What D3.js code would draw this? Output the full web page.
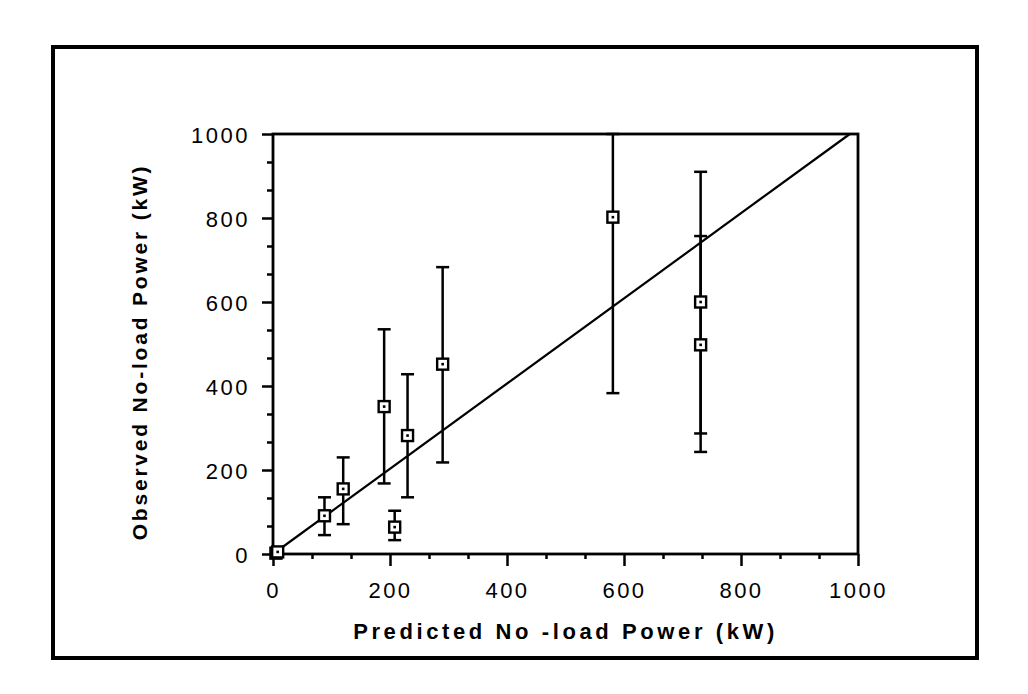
<!DOCTYPE html>
<html>
<head>
<meta charset="utf-8">
<script src="https://cdn.jsdelivr.net/npm/d3@7"></script>
<style>
  body { margin: 0; background: #fff; }
  text { font-family: "Liberation Sans", Arial, sans-serif; fill: #000; }
</style>
</head>
<body>
<div id="chart"></div>
<script>
// data
const predicted = [5, 8, 88, 120, 190, 208, 230, 290, 581, 731, 731]
const observed = [2, 5, 91, 155, 351, 64, 282, 452, 802, 600, 498]
const errLow = [null, null, 45, 71, 168, 33, 135, 218, 383, 287, 243]
const errHigh = [null, null, 135, 230, 535, 103, 428, 683, 1000, 910, 757]
const fitLine = [[0, 0], [986, 1000]]
const majorTicks = [0, 200, 400, 600, 800, 1000]
const minorTicks = d3.range(0, 1001, 200 / 3).filter((d, i) => i % 3 !== 0)

const width = 1028
const height = 694
const margin = { top: 134, right: 170, bottom: 140, left: 273 }
const boundedWidth = width - margin.left - margin.right
const boundedHeight = height - margin.top - margin.bottom

const svg = d3.select('#chart').append('svg')
  .attr('width', width)
  .attr('height', height)

// outer frame
svg.append('rect')
  .attr('x', 53).attr('y', 47)
  .attr('width', 924).attr('height', 611)
  .attr('fill', 'none')
  .attr('stroke', '#000')
  .attr('stroke-width', 4)

const plot = svg.append('g')
  .attr('transform', `translate(${margin.left}, ${margin.top})`)

const xScale = d3.scaleLinear().domain([0, 1000]).range([0, boundedWidth])
const yScale = d3.scaleLinear().domain([0, 1000]).range([boundedHeight, 0])

// x axis
const xAxis = plot.append('g')
  .attr('transform', `translate(0, ${boundedHeight})`)
xAxis.append('g')
  .call(d3.axisBottom(xScale).tickValues(minorTicks).tickSize(5).tickFormat(''))
xAxis.append('g')
  .call(d3.axisBottom(xScale).tickValues(majorTicks).tickSize(12).tickPadding(16).tickFormat(d3.format('d')))
xAxis.selectAll('text')
  .style('font-size', '22px')
  .style('letter-spacing', '2.5px')

// y axis
const yAxis = plot.append('g')
yAxis.append('g')
  .call(d3.axisLeft(yScale).tickValues(minorTicks).tickSize(6).tickFormat(''))
yAxis.append('g')
  .call(d3.axisLeft(yScale).tickValues(majorTicks).tickSize(11).tickPadding(12).tickFormat(d3.format('d')))
yAxis.selectAll('text')
  .style('font-size', '22px')
  .style('letter-spacing', '2.5px')
  .attr('dy', '0.4em')

plot.selectAll('.domain').remove()
plot.selectAll('.tick line').attr('stroke', '#000').attr('stroke-width', 2.5)

// plot box
plot.append('rect')
  .attr('width', boundedWidth)
  .attr('height', boundedHeight)
  .attr('fill', 'none')
  .attr('stroke', '#000')
  .attr('stroke-width', 2.8)

// fitted line
plot.append('path')
  .datum(fitLine)
  .attr('d', d3.line().x(d => xScale(d[0])).y(d => yScale(d[1])))
  .attr('fill', 'none')
  .attr('stroke', '#000')
  .attr('stroke-width', 2.2)

const points = predicted.map((p, i) => ({ x: p, y: observed[i], lo: errLow[i], hi: errHigh[i] }))
const capW = 13

// error bars
const bars = plot.selectAll('.errbar')
  .data(points.filter(d => d.lo !== null))
  .enter().append('g')
  .attr('class', 'errbar')
  .attr('stroke', '#000')
  .attr('stroke-width', 2.5)

bars.append('line')
  .attr('x1', d => xScale(d.x)).attr('x2', d => xScale(d.x))
  .attr('y1', d => yScale(d.lo)).attr('y2', d => yScale(d.hi))
bars.append('line')
  .attr('x1', d => xScale(d.x) - capW / 2).attr('x2', d => xScale(d.x) + capW / 2)
  .attr('y1', d => yScale(d.lo)).attr('y2', d => yScale(d.lo))
bars.append('line')
  .attr('x1', d => xScale(d.x) - capW / 2).attr('x2', d => xScale(d.x) + capW / 2)
  .attr('y1', d => yScale(d.hi)).attr('y2', d => yScale(d.hi))

// open square markers with a centre dot
const size = 11
const marks = plot.selectAll('.marker')
  .data(points)
  .enter().append('g')
  .attr('class', 'marker')
  .attr('transform', d => `translate(${xScale(d.x)}, ${yScale(d.y)})`)

marks.append('rect')
  .attr('x', -size / 2).attr('y', -size / 2)
  .attr('width', size).attr('height', size)
  .attr('fill', '#fff')
  .attr('stroke', '#000')
  .attr('stroke-width', 2.4)
marks.append('rect')
  .attr('x', -1.3).attr('y', -1.3)
  .attr('width', 2.6).attr('height', 2.6)
  .attr('fill', '#000')

// axis titles
svg.append('text')
  .attr('x', margin.left + boundedWidth / 2)
  .attr('y', 639)
  .attr('text-anchor', 'middle')
  .style('font-size', '22px')
  .style('font-weight', 'bold')
  .style('letter-spacing', '3.6px')
  .text('Predicted No -load Power (kW)')

svg.append('text')
  .attr('transform', 'translate(147, 352) rotate(-90)')
  .attr('text-anchor', 'middle')
  .style('font-size', '21px')
  .style('font-weight', 'bold')
  .style('letter-spacing', '2.8px')
  .text('Observed No-load Power (kW)')
</script>
</body>
</html>
